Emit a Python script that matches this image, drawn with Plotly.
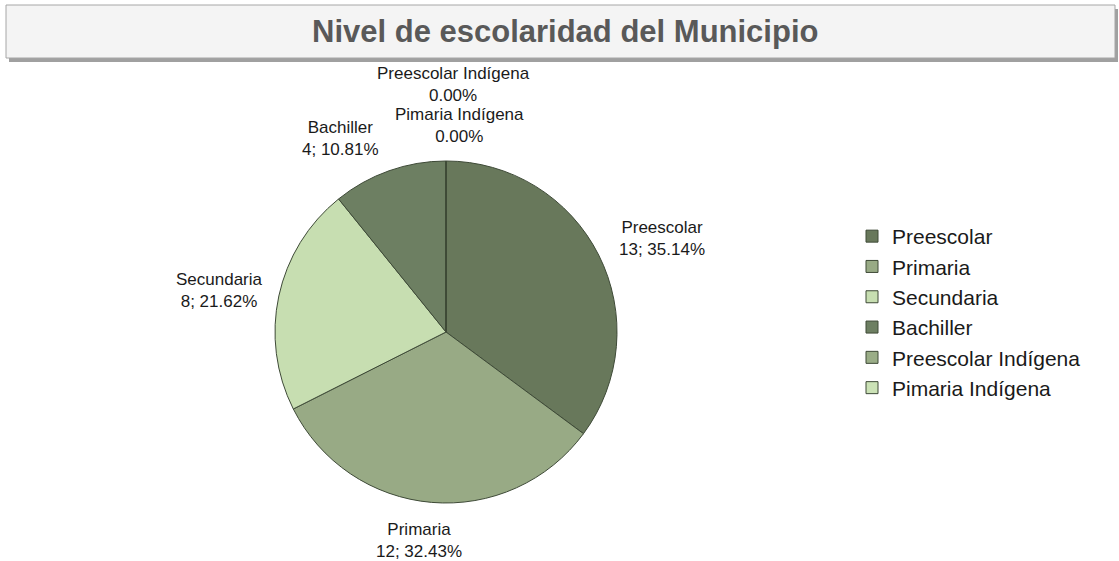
import math
import plotly.graph_objects as go

categories = ["Preescolar", "Primaria", "Secundaria", "Bachiller",
              "Preescolar Indígena", "Pimaria Indígena"]
values = [13, 12, 8, 4, 0, 0]
colors = ["#68785b", "#98aa85", "#c7deb1", "#6d7f62", "#9aad87", "#cbe2b6"]
title_text = "Nivel de escolaridad del Municipio"

W, H = 1119, 561
cx, cy, R = 446, 332, 171  # pie centre / radius in pixels

fig = go.Figure()
fig.add_trace(go.Pie(
    labels=categories, values=values, sort=False, direction="clockwise",
    rotation=0, textinfo="none", hoverinfo="label+value+percent",
    marker=dict(colors=colors, line=dict(color="#3e4a37", width=1)),
    domain=dict(x=[(cx - R) / W, (cx + R) / W],
                y=[(H - cy - R) / H, (H - cy + R) / H]),
    showlegend=True,
))

# data labels, positioned from each slice's mid-angle
total = sum(values)
acc = 0.0
gap = 16
shifts = {0: (4, -13), 1: (-11, 0), 2: (2, 2), 3: (-3, -5), 4: (8, 38), 5: (14, -3)}
for i, (lab, v) in enumerate(zip(categories, values)):
    mid = (acc + v / 2) / total * 2 * math.pi
    acc += v
    ux, uy = math.sin(mid), -math.cos(mid)
    px = cx + (R + gap) * ux
    py = cy + (R + gap) * uy
    xa = "left" if ux > 0.3 else ("right" if ux < -0.3 else "center")
    ya = "top" if uy > 0.3 else ("bottom" if uy < -0.3 else "middle")
    pct = v / total * 100
    txt = f"{lab}<br>{pct:.2f}%" if v == 0 else f"{lab}<br>{v}; {pct:.2f}%"
    sx, sy = shifts.get(i, (0, 0))
    fig.add_annotation(x=px / W, y=1 - py / H, xref="paper", yref="paper",
                       text=txt, showarrow=False, xanchor=xa, yanchor=ya,
                       xshift=sx, yshift=sy, align="center",
                       font=dict(family="Liberation Sans, Arial", size=17, color="#1a1a1a"))

# title box with shadow
def rect(x0, y0, x1, y1, **kw):
    fig.add_shape(type="rect", xref="paper", yref="paper",
                  x0=x0 / W, x1=x1 / W, y0=1 - y1 / H, y1=1 - y0 / H, **kw)

rect(9, 9, 1118, 62, fillcolor="#a0a0a0", line=dict(width=0), layer="below")
rect(6, 5, 1115, 58, fillcolor="#f4f4f4", line=dict(color="#a6a6a6", width=1), layer="below")
fig.add_annotation(x=565 / W, y=1 - 32 / H, xref="paper", yref="paper",
                   text=f"<b>{title_text}</b>", showarrow=False,
                   xanchor="center", yanchor="middle",
                   font=dict(family="Liberation Sans, Arial", size=31, color="#595959"))

fig.update_layout(
    width=W, height=H, margin=dict(l=0, r=0, t=0, b=0),
    paper_bgcolor="white", plot_bgcolor="white",
    legend=dict(x=852 / W, y=1 - 216 / H, xanchor="left", yanchor="top",
                font=dict(family="Liberation Sans, Arial", size=21, color="#1a1a1a"),
                bgcolor="rgba(0,0,0,0)"),
)
fig.write_html("out.html", config={"displayModeBar": False},
               post_script="document.body.style.margin='0';document.body.style.overflow='hidden';")
